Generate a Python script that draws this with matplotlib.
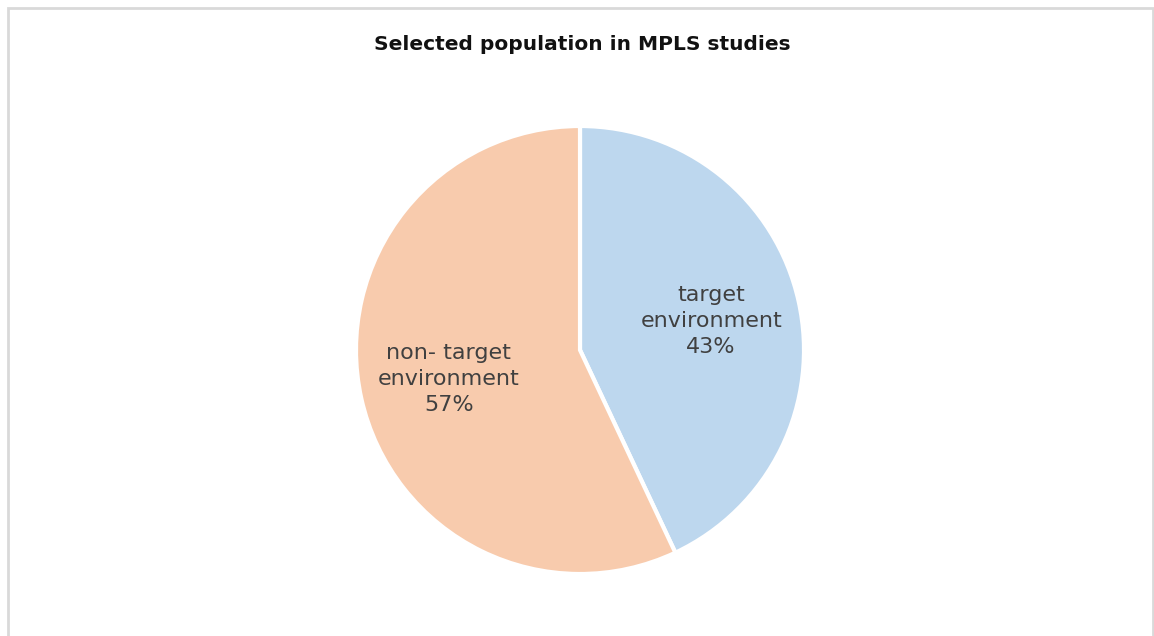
import matplotlib.pyplot as plt
from matplotlib.patches import Rectangle

# data
labels = ["target\nenvironment", "non- target\nenvironment"]
shares = [43, 57]
colors = ["#BDD7EE", "#F8CBAD"]

W, H = 1154, 636
fig = plt.figure(figsize=(W / 100, H / 100), dpi=100)

# light frame round the chart (bottom edge runs off the image)
fig.patches.append(Rectangle((8 / W, -0.05), (1153 - 8) / W, 1.05 - 8 / H,
                             transform=fig.transFigure, fill=False,
                             edgecolor="#d9d9d9", lw=2))

cx, cy, r = 580, 350, 224
ax = fig.add_axes([(cx - r) / W, (H - cy - r) / H, 2 * r / W, 2 * r / H])

texts = [f"{l}\n{v}%" for l, v in zip(labels, shares)]
wedges, txt = ax.pie(shares, labels=texts, colors=colors, startangle=90,
                     counterclock=False, labeldistance=0.6,
                     wedgeprops=dict(edgecolor="white", linewidth=3),
                     textprops=dict(fontsize=16, color="#404040",
                                    family="DejaVu Sans"))
for t in txt:
    t.set_ha("center")
    t.set_va("center")
    t.set_linespacing(1.38)
ax.set_xlim(-1, 1)
ax.set_ylim(-1, 1)
ax.set_aspect("equal")

fig.text(582 / W, 1 - 45 / H, "Selected population in MPLS studies",
         ha="center", va="center", fontsize=14.5, fontweight="bold",
         color="#111111")

fig.savefig("out.png", dpi=100)
